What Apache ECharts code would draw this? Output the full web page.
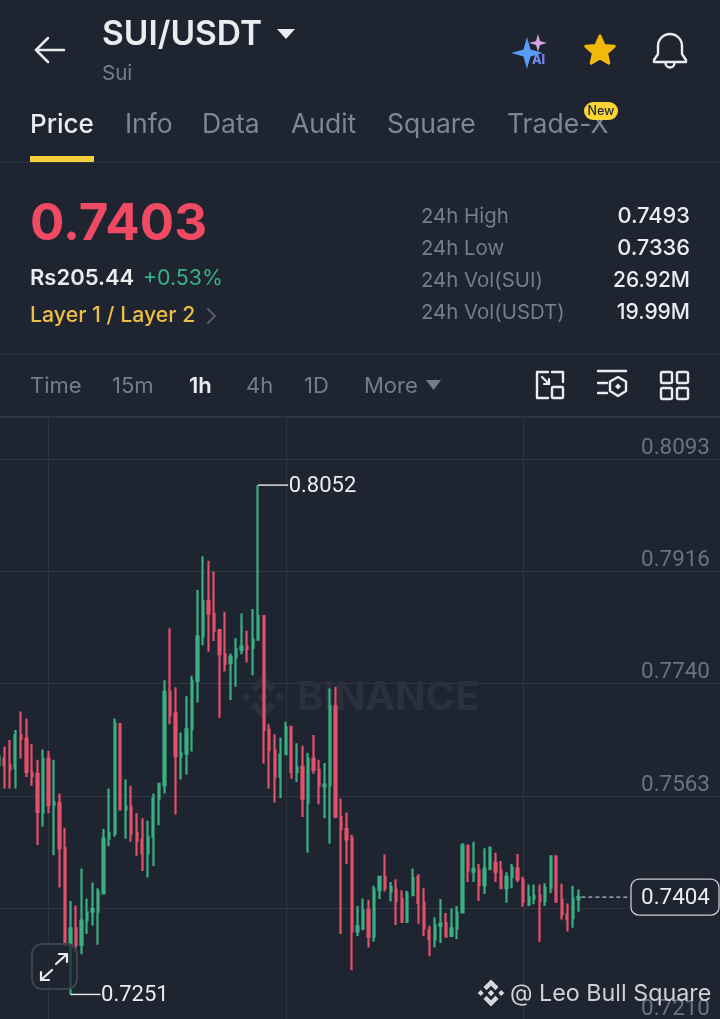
<!DOCTYPE html>
<html><head><meta charset="utf-8">
<style>html,body{margin:0;padding:0;background:#1e2430}#c{width:720px;height:1019px}</style>
<script src="https://cdn.jsdelivr.net/npm/echarts@6/dist/echarts.min.js"></script>
</head><body><div id="c"></div>
<script>
const opens=[.7612,.7622,.7612,.7607,.7659,.7653,.7600,.7598,.7537,.7622,
.7549,.7552,.7481,.7329,.7355,.7329,.7368,.7381,.7381,.7410,
.7496,.7504,.7676,.7542,.7546,.7505,.7494,.7473,.7499,.7559,
.7580,.7727,.7693,.7625,.7630,.7668,.7744,.7814,.7870,.7850,
.7824,.7786,.7772,.7781,.7793,.7798,.7796,.7809,.7846,.7667,
.7635,.7593,.7629,.7672,.7601,.7609,.7553,.7622,.7604,.7578,
.7580,.7704,.7530,.7511,.7497,.7350,.7355,.7384,.7342,.7415,
.7436,.7413,.7416,.7401,.7365,.7407,.7436,.7395,.7352,.7337,
.7359,.7363,.7343,.7355,.7380,.7485,.7444,.7446,.7423,.7448,
.7458,.7446,.7418,.7436,.7449,.7431,.7392,.7402,.7406,.7398,
.7419,.7468,.7400,.7377,.7371,.7401];
const closes=[.7625,.7612,.7605,.7659,.7653,.7601,.7594,.7538,.7621,.7549,
.7553,.7481,.7329,.7355,.7329,.7367,.7380,.7385,.7413,.7496,
.7505,.7677,.7542,.7546,.7504,.7493,.7473,.7499,.7559,.7582,
.7727,.7690,.7626,.7630,.7668,.7744,.7814,.7869,.7850,.7823,
.7786,.7771,.7782,.7794,.7798,.7794,.7809,.7846,.7667,.7635,
.7593,.7628,.7671,.7601,.7608,.7559,.7622,.7604,.7579,.7581,
.7704,.7531,.7511,.7495,.7350,.7358,.7383,.7342,.7416,.7436,
.7418,.7420,.7398,.7365,.7410,.7434,.7395,.7355,.7338,.7360,
.7362,.7342,.7355,.7380,.7485,.7446,.7448,.7423,.7449,.7482,
.7444,.7418,.7436,.7451,.7432,.7397,.7404,.7406,.7398,.7419,
.7468,.7397,.7377,.7369,.7402,.7404];
const lows=[.7588,.7575,.7575,.7575,.7622,.7593,.7579,.7486,.7515,.7536,
.7470,.7419,.7329,.7251,.7316,.7314,.7346,.7359,.7329,.7410,
.7484,.7499,.7542,.7496,.7491,.7469,.7445,.7435,.7453,.7517,
.7567,.7676,.7534,.7589,.7597,.7633,.7710,.7800,.7790,.7807,
.7686,.7759,.7714,.7735,.7786,.7773,.7753,.7809,.7614,.7575,
.7553,.7560,.7629,.7590,.7585,.7530,.7474,.7598,.7550,.7528,
.7488,.7528,.7346,.7456,.7289,.7343,.7352,.7325,.7334,.7401,
.7413,.7397,.7360,.7364,.7364,.7407,.7362,.7343,.7311,.7325,
.7332,.7341,.7343,.7338,.7379,.7428,.7428,.7398,.7409,.7447,
.7428,.7418,.7395,.7418,.7428,.7389,.7390,.7393,.7334,.7390,
.7410,.7397,.7369,.7350,.7356,.7381];
const highs=[.7646,.7641,.7651,.7667,.7696,.7685,.7645,.7620,.7636,.7634,
.7620,.7567,.7513,.7398,.7391,.7449,.7402,.7427,.7418,.7511,
.7575,.7685,.7677,.7589,.7579,.7536,.7528,.7524,.7567,.7582,
.7745,.7827,.7734,.7663,.7720,.7752,.7887,.7940,.7933,.7916,
.7824,.7853,.7787,.7811,.7850,.7823,.7857,.8052,.7846,.7676,
.7660,.7655,.7680,.7673,.7646,.7642,.7631,.7659,.7620,.7615,
.7732,.7735,.7559,.7537,.7502,.7390,.7402,.7400,.7422,.7437,
.7471,.7428,.7432,.7415,.7414,.7449,.7440,.7418,.7359,.7372,
.7401,.7379,.7386,.7390,.7489,.7486,.7491,.7456,.7481,.7482,
.7474,.7461,.7443,.7456,.7472,.7436,.7424,.7424,.7424,.7426,
.7468,.7469,.7425,.7394,.7422,.7416];
const slotCount=132;
const slots=Array.from({length:slotCount},(_,i)=>String(i));
const axisMin=0.7210, axisStep=0.01766, axisMax=0.81591;
const extremeSlots=[47,13];
const extremeValues=[0.8052,0.7251];
const lastSlot=105, lastPrice=0.7404;
const stats=[["24h High","0.7493"],["24h Low","0.7336"],["24h Vol(SUI)","26.92M"],["24h Vol(USDT)","19.99M"]];
const tabs=["Price","Info","Data","Audit","Square","Trade-X"];
const frames=["Time","15m","1h","4h","1D","More"];

const BG='#1e2430',F='Inter, "Noto Sans", sans-serif',NUM='Roboto, Inter, sans-serif',GREY='#767d89',WHITE='#eaecef',GREEN='#3aaf83',RED='#e2506a',LINE='#2f3540';
const candles=opens.map((o,i)=>[o,closes[i],lows[i],highs[i]]);

function T(text,x,y,size,fill,weight,align,z,font){return {type:'text',z:z||50,style:{text,x,y:y+1.5,fontSize:size,fill,fontFamily:font||F,fontWeight:weight||400,textAlign:align||'left',textVerticalAlign:'middle'}};}
function L(x1,y1,x2,y2,stroke,w,z){return {type:'line',z:z||50,shape:{x1,y1,x2,y2},style:{stroke,lineWidth:w||2,lineCap:'round'}};}
function PL(pts,stroke,w,z){return {type:'polyline',z:z||50,shape:{points:pts},style:{stroke,fill:null,lineWidth:w||2,lineJoin:'round',lineCap:'round'}};}
function PG(pts,fill,z,extra){return {type:'polygon',z:z||50,shape:{points:pts},style:Object.assign({fill},extra||{})};}
function R(x,y,w,h,r,style,z){return {type:'rect',z:z||50,shape:{x,y,width:w,height:h,r},style};}
function logo(cx,cy,s,fill,z){
 const m=p=>p.map(q=>[cx+q[0]*s,cy+q[1]*s]);
 const d=(x,y,r)=>PG(m([[x,y-r],[x+r,y],[x,y+r],[x-r,y]]),fill,z);
 return [PG(m([[0,-1],[.56,-.44],[.33,-.21],[0,-.54],[-.33,-.21],[-.56,-.44]]),fill,z),
 PG(m([[0,1],[.56,.44],[.33,.21],[0,.54],[-.33,.21],[-.56,.44]]),fill,z),
 d(0,0,.24),d(.76,0,.22),d(-.76,0,.22)];
}
function sparkle(cx,cy,r,fill,z){const k=r*.22;return PG([[cx,cy-r],[cx+k,cy-k],[cx+r,cy],[cx+k,cy+k],[cx,cy+r],[cx-k,cy+k],[cx-r,cy],[cx-k,cy-k]],fill,z);}
function star(cx,cy,r){const p=[];for(let i=0;i<10;i++){const a=-Math.PI/2+i*Math.PI/5,q=i%2?r*.46:r;p.push([cx+q*Math.cos(a),cy+q*Math.sin(a)]);}return PG(p,'#f0b90b',50,{stroke:'#f0b90b',lineWidth:3,lineJoin:'round'});}

const g=[];
g.push(...logo(263,697,22,'#2a303c',1));
g.push(T('BINANCE',297,696,40,'#2a303c',700,'left',1));
g.push(PL([[48,38],[36,50],[48,62]],WHITE,2.5),L(36,50,64,50,WHITE,2.5));
g.push(T('SUI/USDT',102,33,33.5,WHITE,600));
g.push(PG([[277,29],[295,29],[286,39]],WHITE));
g.push(T('Sui',102,72,20.5,GREY));
g.push(sparkle(527,53,16,'#5a9bf5'),sparkle(538,43,9,'#d9a3e0'),T('AI',532,59,12.5,'#6f8bf5',800));
g.push(star(600,51,15));
g.push({type:'arc',z:50,shape:{cx:670,cy:46,r:12,startAngle:Math.PI,endAngle:2*Math.PI},style:{stroke:WHITE,fill:null,lineWidth:2.4}});
g.push(PL([[658,46],[658,54],[654,60],[654,62],[686,62],[686,60],[682,54],[682,46]],WHITE,2.4));
g.push({type:'arc',z:50,shape:{cx:670,cy:63,r:4.5,startAngle:0,endAngle:Math.PI},style:{stroke:WHITE,fill:null,lineWidth:2.4}});
const tabX=[30,125,202,291,387,507];
tabs.forEach((s,i)=>g.push(T(s,tabX[i],124,i?26.5:26,i?'#7f8793':WHITE,i?400:500)));
g.push(R(584,102,34,18,9,{fill:'#fcd535'},55),T('New',601,110,12.5,'#1e2430',500,'center',56));
g.push(R(30,156,64,6,0,{fill:'#f5cf3e'}),L(0,162.5,720,162.5,LINE,1));
g.push(T('0.7403',30,223,51,'#ef4a63',700));
g.push(T('Rs205.44',30,277,22,WHITE,600),T('+0.53%',143,277,21.3,'#35b386',400));
g.push(T('Layer 1 / Layer 2',30,314,21.3,'#ecbe45',500));
g.push(PL([[208,309],[215,316],[208,323]],'#5b626e',1.8));
stats.forEach((s,i)=>{const y=215+i*32;g.push(T(s[0],421,y,20.4,GREY),T(s[1],690,y,i<2?21.8:21,WHITE,500,'right'));});
g.push(L(0,354.5,720,354.5,LINE,1));
const frameX=[30,112,189,246,304,364];
frames.forEach((s,i)=>g.push(T(s,frameX[i],385,22,i===2?WHITE:GREY,i===2?600:400)));
g.push(PG([[426,380],[441,380],[433.5,390]],GREY));
const W=WHITE;
g.push(PL([[548,372],[537,372],[537,398],[548,398]],W,2.4),PL([[552,372],[563,372],[563,382]],W,2.4),R(552,387,11,11,1,{stroke:W,fill:null,lineWidth:2.4},50),L(542,377,549,384,W,2.2),PL([[549,379],[549,384],[544,384]],W,2.2));
g.push(L(598,371,626,371,W,2.4),L(598,383,607,383,W,2.4),L(598,393,607,393,W,2.4));
g.push(PG([[618,377],[626,381.5],[626,391],[618,396],[610,391],[610,381.5]],'transparent',50,{stroke:W,lineWidth:2.4,lineJoin:'round'}),PG([[618,383.5],[621,386.5],[618,389.5],[615,386.5]],W));
[[661,372],[677,372],[661,388],[677,388]].forEach(p=>g.push(R(p[0],p[1],11,11,1.5,{stroke:W,fill:null,lineWidth:2.4},50)));
g.push(L(0,416.5,720,416.5,LINE,1));
g.push(R(32,944,45,45,10,{fill:'rgba(30,36,48,.72)',stroke:'#3d434e',lineWidth:2},40));
g.push(L(41,980,52,970,WHITE,2.2),PL([[41,972],[41,980],[49,980]],WHITE,2.2),L(56,964,67,954,WHITE,2.2),PL([[59,954],[67,954],[67,962]],WHITE,2.2));
g.push(...logo(491,993,13.5,'#d4d8de',45));
g.push(T('@ Leo Bull Square',510,992,23.3,'#cdd1d7',400,'left',45));

const chart=echarts.init(document.getElementById('c'));
chart.setOption({
 animation:false,backgroundColor:BG,graphic:{elements:g},
 grid:{left:-1.24,right:-1.88,top:417,bottom:-1.5,outerBoundsMode:'none',containLabel:false},
 xAxis:{type:'category',data:slots,boundaryGap:false,axisLine:{show:false},axisTick:{show:false},axisLabel:{show:false},
  splitLine:{show:true,interval:i=>i%43===9,lineStyle:{color:LINE,width:1}}},
 yAxis:{type:'value',position:'right',min:axisMin,max:axisMax,interval:axisStep,scale:true,axisLine:{show:false},axisTick:{show:false},
  splitLine:{show:true,lineStyle:{color:LINE,width:1}},
  axisLabel:{inside:true,margin:12,showMaxLabel:false,verticalAlign:'bottom',lineHeight:22,fontSize:22.4,color:'#6c7380',fontFamily:NUM,formatter:v=>v.toFixed(4)}},
 series:[{type:'candlestick',data:candles,barWidth:1.8,z:5,
   itemStyle:{color:GREEN,color0:RED,borderColor:GREEN,borderColor0:RED,borderWidth:2.2}},
  {type:'custom',z:6,clip:false,data:extremeSlots.map((s,i)=>[s,extremeValues[i]]),
   renderItem:(p,api)=>{const c=api.coord([api.value(0),api.value(1)]);return {type:'group',children:[
     {type:'line',shape:{x1:c[0],y1:c[1],x2:c[0]+30,y2:c[1]},style:{stroke:WHITE,lineWidth:1.4}},
     {type:'text',style:{text:api.value(1).toFixed(4),x:c[0]+30.5,y:c[1]+1,fill:WHITE,fontSize:22,fontFamily:NUM,textVerticalAlign:'middle'}}]};}},
  {type:'custom',z:7,clip:false,data:[[lastSlot,lastPrice]],
   renderItem:(p,api)=>{const c=api.coord([api.value(0),api.value(1)]);return {type:'group',children:[
     {type:'line',shape:{x1:c[0]+3,y1:c[1],x2:631,y2:c[1]},style:{stroke:'#b9bec6',lineWidth:1.2,lineDash:[4,3]}},
     {type:'rect',shape:{x:631,y:c[1]-18,width:88,height:36,r:8},style:{fill:BG,stroke:'#c6cad0',lineWidth:1.3}},
     {type:'text',style:{text:api.value(1).toFixed(4),x:675.5,y:c[1]+1,fill:WHITE,fontSize:22.4,fontFamily:NUM,textAlign:'center',textVerticalAlign:'middle'}}]};}}
 ]
});
</script></body></html>
